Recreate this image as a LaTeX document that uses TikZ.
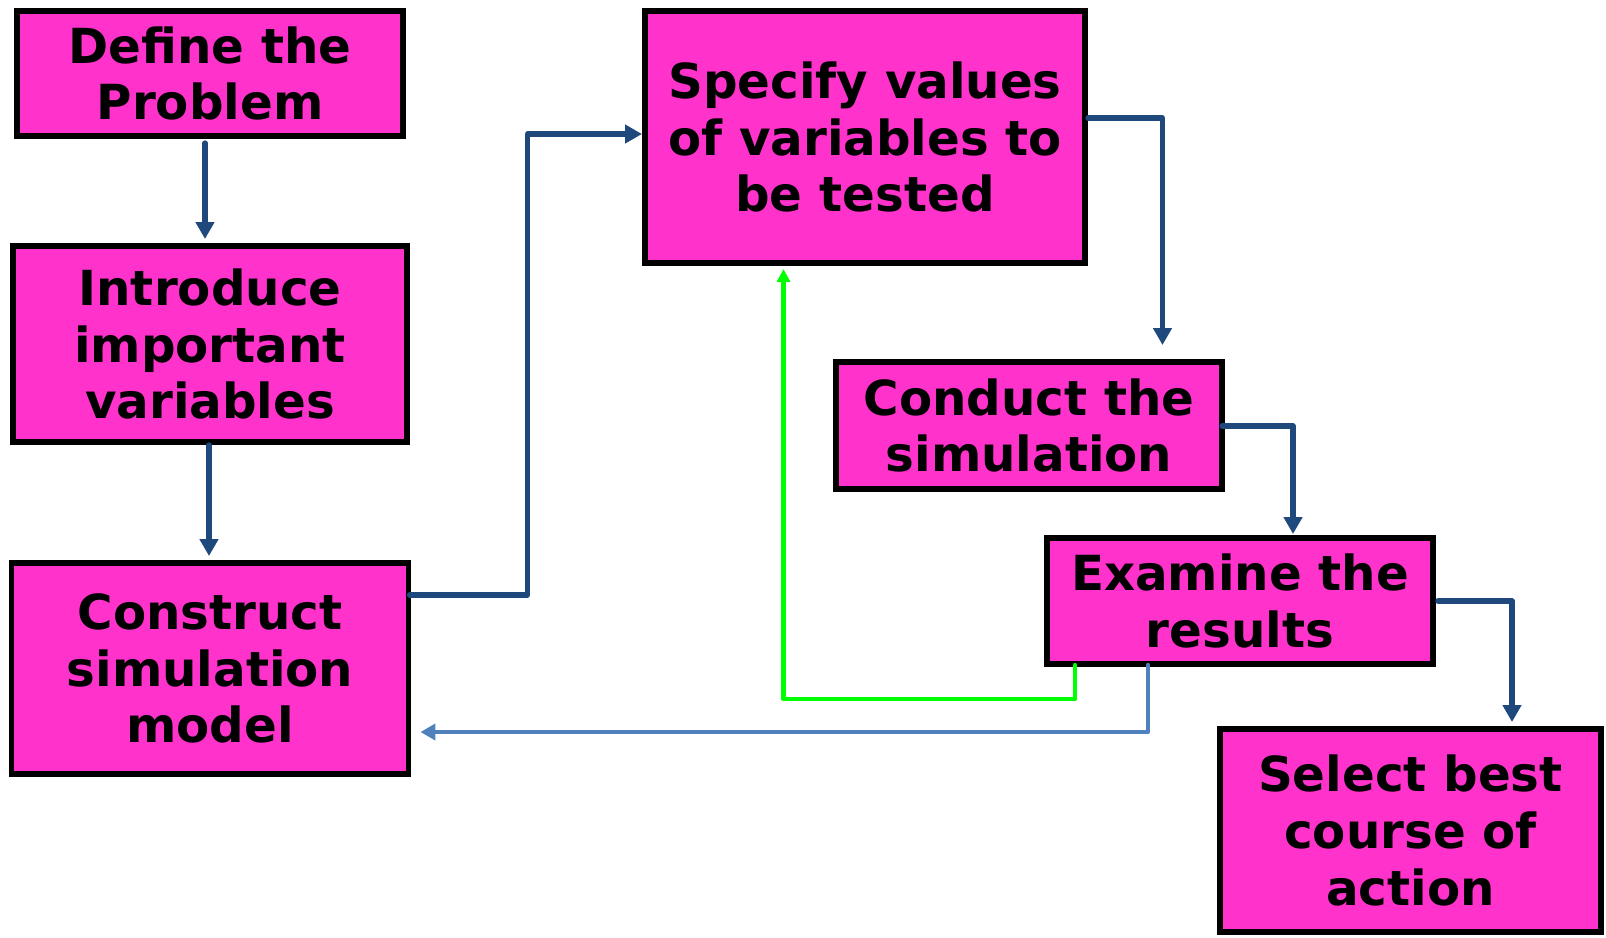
\documentclass[tikz,border=0pt]{standalone}
\usepackage{fontspec}
\setmainfont{DejaVu Sans}
\usetikzlibrary{arrows.meta,calc}
\newdimen\px
\px=0.02cm
\definecolor{boxpink}{RGB}{255,51,204}
\definecolor{flowblue}{RGB}{31,73,125}
\definecolor{backblue}{RGB}{79,129,189}
\definecolor{loopgreen}{RGB}{0,255,0}
\tikzset{
  stage/.style 2 args={draw=black, fill=boxpink, line width=3.4pt,
    minimum width=#1\px, minimum height=#2\px, inner sep=0pt,
    align=center, font=\fontsize{27.5}{32.3}\selectfont\bfseries},
  flow/.style={draw=flowblue, line width=3pt, line join=round, line cap=round,
    -{Triangle[width=10.2pt,length=9.6pt]}},
  backflow/.style={draw=backblue, line width=2.55pt, line join=round, line cap=round,
    -{Triangle[width=9.1pt,length=8.5pt]}},
  loopflow/.style={draw=loopgreen, line width=2.45pt, line join=round, line cap=round,
    -{Triangle[width=7.4pt,length=7.4pt]}},
}
\begin{document}
\begin{tikzpicture}[x=0.02cm, y=-0.02cm]
\useasboundingbox (0,0) rectangle (1606,937);

% process steps
\node[stage={386}{125}] (define)    at (210,73.5)   {Define the\\Problem};
\node[stage={394}{196}] (intro)     at (210,344)    {Introduce\\important\\variables};
\node[stage={397}{211}] (construct) at (210,668.5)  {Construct\\simulation\\model};
\node[stage={440}{252}] (specify)   at (865,137)    {Specify values\\of variables to\\be tested};
\node[stage={386}{127}] (conduct)   at (1029,425.5) {Conduct the\\simulation};
\node[stage={386}{126}] (examine)   at (1240,601)   {Examine the\\results};
\node[stage={381}{203}] (select)    at (1410.5,830.5) {Select best\\course of\\action};

% main sequence
\draw[flow] ($(define.south)+(-5,4)$) -- ($(intro.north)+(-5,-4)$);
\draw[flow] ($(intro.south)+(-1,0)$) -- ($(construct.north)+(-1,-4)$);
\draw[flow] ($(construct.north east)+(-2,35)$) -- ++(118,0) |- ($(specify.north west)+(0,126)$);
\draw[flow] ($(specify.north east)+(0,110)$) -| ($(conduct.north east)+(-62.5,-14)$);
\draw[flow] ($(conduct.north east)+(-3,67)$) -| ($(examine.north west)+(249,-1)$);
\draw[flow] ($(examine.north east)+(2,66)$) -| ($(select.north west)+(295,-4)$);

% feedback loops
\draw[loopflow] ($(examine.south west)+(31,-2)$) -- ++(0,34) -| ($(specify.south west)+(141.5,3)$);
\draw[backflow] ($(examine.south west)+(104,-2)$) |- ($(construct.north east)+(9,172)$);
\end{tikzpicture}
\end{document}
